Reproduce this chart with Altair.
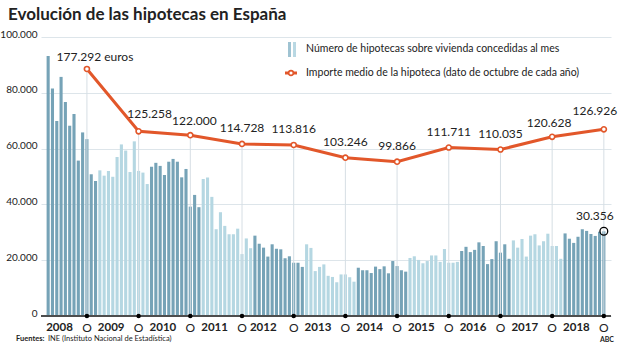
import altair as alt
import pandas as pd

# ---------------- data ----------------
h2008 = [93200, 81500, 69900, 85700, 76700, 68200, 72400, 55700, 65800, 63400, 50800, 48400]
h2009 = [52200, 50300, 52000, 49900, 57000, 61500, 59300, 51600, 62600, 52000, 51400, 47300]
h2010 = [53500, 54900, 53800, 50500, 55300, 56300, 55300, 49700, 52700, 39200, 43400, 39000]
h2011 = [49100, 49600, 42700, 31100, 37200, 32300, 29300, 29300, 31300, 22200, 27800, 24300]
h2012 = [28800, 25900, 24500, 21300, 25700, 24100, 23900, 20700, 21400, 19100, 19100, 17600]
h2013 = [25700, 24400, 16100, 17600, 18500, 14400, 14000, 12100, 14900, 14900, 13900, 12300]
h2014 = [17300, 16400, 16400, 15400, 17700, 16800, 17800, 15300, 19700, 17900, 16400, 15900]
h2015 = [20800, 21400, 20100, 18900, 19700, 21700, 21700, 19400, 24000, 19100, 19100, 19400]
h2016 = [23300, 24800, 22900, 23700, 26400, 25100, 18600, 20400, 26800, 22700, 25700, 20500]
h2017 = [27100, 24500, 27600, 21300, 28800, 29300, 25300, 26800, 29500, 25100, 25100, 20500]
h2018 = [29600, 27700, 26200, 28400, 31100, 30500, 29400, 28700, 30200, 30356]

years = list(range(2008, 2019))
importe = [177292, 125258, 122000, 114728, 113816, 103246, 99866, 111711, 110035, 120628, 126926]

series = [h2008, h2009, h2010, h2011, h2012, h2013, h2014, h2015, h2016, h2017, h2018]

rows = []
i = 0
for y, vals in zip(years, series):
    for v in vals:
        rows.append({"idx": i, "valor": v, "anio": y,
                     "tono": "a" if (y - 2008) % 2 == 0 else "b"})
        i += 1
bars_df = pd.DataFrame(rows)

def fmt(v):
    return f"{v:,}".replace(",", ".")

line_df = pd.DataFrame({
    "idx": [9 + 12 * k for k in range(len(years))],
    "anio": years,
    "euros": importe,
    "label": [fmt(v) + (" euros" if k == 0 else "") for k, v in enumerate(importe)],
})

year_df = pd.DataFrame({"idx": [12 * k for k in range(len(years))],
                        "txt": [str(y) for y in years], "anio": years})
oct_df = pd.DataFrame({"idx": [9 + 12 * k for k in range(len(years))], "txt": ["O"] * len(years)})
last_df = bars_df.tail(1).assign(label=lambda d: d["valor"].map(fmt))

# ---------------- layout ----------------
W, H = 570, 279
FONT = "Lato"
TXT = "#222222"
DARK = "#76a3b7"
LIGHT = "#b5d7e2"
ORANGE = "#e2572a"

xs = alt.Scale(domain=[-0.5, 129.5], nice=False, zero=False)
ys = alt.Scale(domain=[0, 100000], nice=False)
es = alt.Scale(domain=[-29000, 204000], nice=False, zero=False)

X = alt.X("idx:Q", scale=xs, axis=None)

y_axis = alt.Axis(
    values=[0, 20000, 40000, 60000, 80000, 100000],
    labelExpr="replace(format(datum.value, ','), ',', '.')",
    grid=True, gridColor="#dde5ea", gridWidth=1,
    domain=False, ticks=False, labelPadding=4,
    labelFont=FONT, labelFontSize=10, labelColor=TXT,
    labelBaseline="alphabetic", title=None,
)

bars = alt.Chart(bars_df).mark_bar(size=3.1).encode(
    x=X,
    y=alt.Y("valor:Q", scale=ys, axis=y_axis),
    color=alt.Color("tono:N", scale=alt.Scale(domain=["a", "b"], range=[DARK, LIGHT]), legend=None),
)

vrules = alt.Chart(line_df).mark_rule(color="#d6dee4", strokeWidth=1).encode(
    x=X, y=alt.Y("euros:Q", scale=es, axis=None), y2=alt.value(H),
)

line = alt.Chart(line_df).mark_line(color=ORANGE, strokeWidth=3).encode(
    x=X, y=alt.Y("euros:Q", scale=es, axis=None),
)
pts = alt.Chart(line_df).mark_point(shape="circle", filled=True, fill="white",
                                    stroke=ORANGE, strokeWidth=1.6, size=26, opacity=1).encode(
    x=X, y=alt.Y("euros:Q", scale=es, axis=None),
)

def lab(years_sel, dx, dy):
    return alt.Chart(line_df).transform_filter(
        alt.FieldOneOfPredicate(field="anio", oneOf=years_sel)
    ).mark_text(font=FONT, fontSize=12, color=TXT, dx=dx, dy=dy, baseline="middle").encode(
        x=X, y=alt.Y("euros:Q", scale=es, axis=None), text="label:N",
    )

labels = [
    lab([2008], 8, -12),
    lab([2009], 11, -17),
    lab([2010], 4, -14),
    lab([2011, 2012, 2013, 2014, 2015, 2016], 0, -16),
    lab([2017], -3, -14),
    lab([2018], -9, -18),
]

axis_line = alt.Chart(pd.DataFrame({"a": [0]})).mark_rule(color="#4d4d4d", strokeWidth=2).encode(
    x=alt.value(0), x2=alt.value(W), y=alt.value(H),
)
dots = alt.Chart(oct_df).mark_circle(color="black", size=20, opacity=1).encode(x=X, y=alt.value(H))

yr_main = alt.Chart(year_df).transform_filter("datum.anio != 2012").mark_text(
    font=FONT, fontSize=11.5, fontWeight="bold", color=TXT, align="left", dx=-2, baseline="middle"
).encode(x=X, y=alt.value(H + 12), text="txt:N")
yr_2012 = alt.Chart(year_df).transform_filter("datum.anio == 2012").mark_text(
    font=FONT, fontSize=11.5, fontWeight="bold", color=TXT, align="left", dx=-5, baseline="middle"
).encode(x=X, y=alt.value(H + 12), text="txt:N")
o_lab = alt.Chart(oct_df).mark_text(
    font=FONT, fontSize=12, color=TXT, align="center", baseline="middle"
).encode(x=X, y=alt.value(H + 12), text="txt:N")

last_lab = alt.Chart(last_df).mark_text(font=FONT, fontSize=12, color=TXT, dx=-9, dy=-15,
                                        baseline="middle").encode(
    x=X, y=alt.Y("valor:Q", scale=ys, axis=None), text="label:N")
last_pt = alt.Chart(last_df).mark_point(shape="circle", filled=False, color="black",
                                        strokeWidth=1.3, size=60, opacity=1).encode(
    x=X, y=alt.Y("valor:Q", scale=ys, axis=None))

one = pd.DataFrame({"a": [0]})
def txt(s, x, y, size=11, weight="normal", align="left", color=TXT):
    return alt.Chart(one).mark_text(font=FONT, fontSize=size, fontWeight=weight, align=align,
                                    baseline="middle", color=color).encode(
        x=alt.value(x), y=alt.value(y), text=alt.value(s))

OX, OY = 41, 37
title = txt("Evolución de las hipotecas en España", 8 - OX, 15 - OY, size=17, weight="bold")
leg1 = txt("Número de hipotecas sobre vivienda  concedidas al mes", 306 - OX, 49 - OY, size=10.5)
leg2 = txt("Importe medio de la hipoteca (dato de octubre de cada año)", 306 - OX, 73 - OY, size=10.5)
icon_b1 = alt.Chart(one).mark_rect(color="#9fc3d2").encode(
    x=alt.value(288 - OX), x2=alt.value(291 - OX), y=alt.value(42 - OY), y2=alt.value(57 - OY))
icon_b2 = alt.Chart(one).mark_rect(color="#b9d8e3").encode(
    x=alt.value(293 - OX), x2=alt.value(296 - OX), y=alt.value(42 - OY), y2=alt.value(57 - OY))
icon_l = alt.Chart(one).mark_rule(color=ORANGE, strokeWidth=3).encode(
    x=alt.value(285 - OX), x2=alt.value(297 - OX), y=alt.value(73 - OY))
icon_p = alt.Chart(one).mark_point(shape="circle", filled=True, fill="white", stroke=ORANGE,
                                   strokeWidth=1.6, size=22, opacity=1).encode(
    x=alt.value(291 - OX), y=alt.value(73 - OY))
foot1 = txt("Fuentes:", 16 - OX, 339 - OY, size=7.5, weight="bold")
foot2 = txt("INE (Instituto Nacional de Estadística)", 48 - OX, 339 - OY, size=7.5)
abc = txt("ABC", 614 - OX, 340 - OY, size=7, weight="bold", align="right")

chart = alt.layer(
    bars, vrules, axis_line, dots, line, pts, *labels,
    yr_main, yr_2012, o_lab, last_lab, last_pt,
    title, leg1, leg2, icon_b1, icon_b2, icon_l, icon_p, foot1, foot2, abc,
).resolve_scale(y="independent").properties(
    width=W, height=H,
    autosize=alt.AutoSizeParams(type="none"),
    padding={"left": OX, "top": OY, "right": 620 - OX - W, "bottom": 349 - OY - H},
    background="white",
).configure_view(stroke=None)

chart.save("out.html", embed_options={"renderer": "svg", "actions": False})
